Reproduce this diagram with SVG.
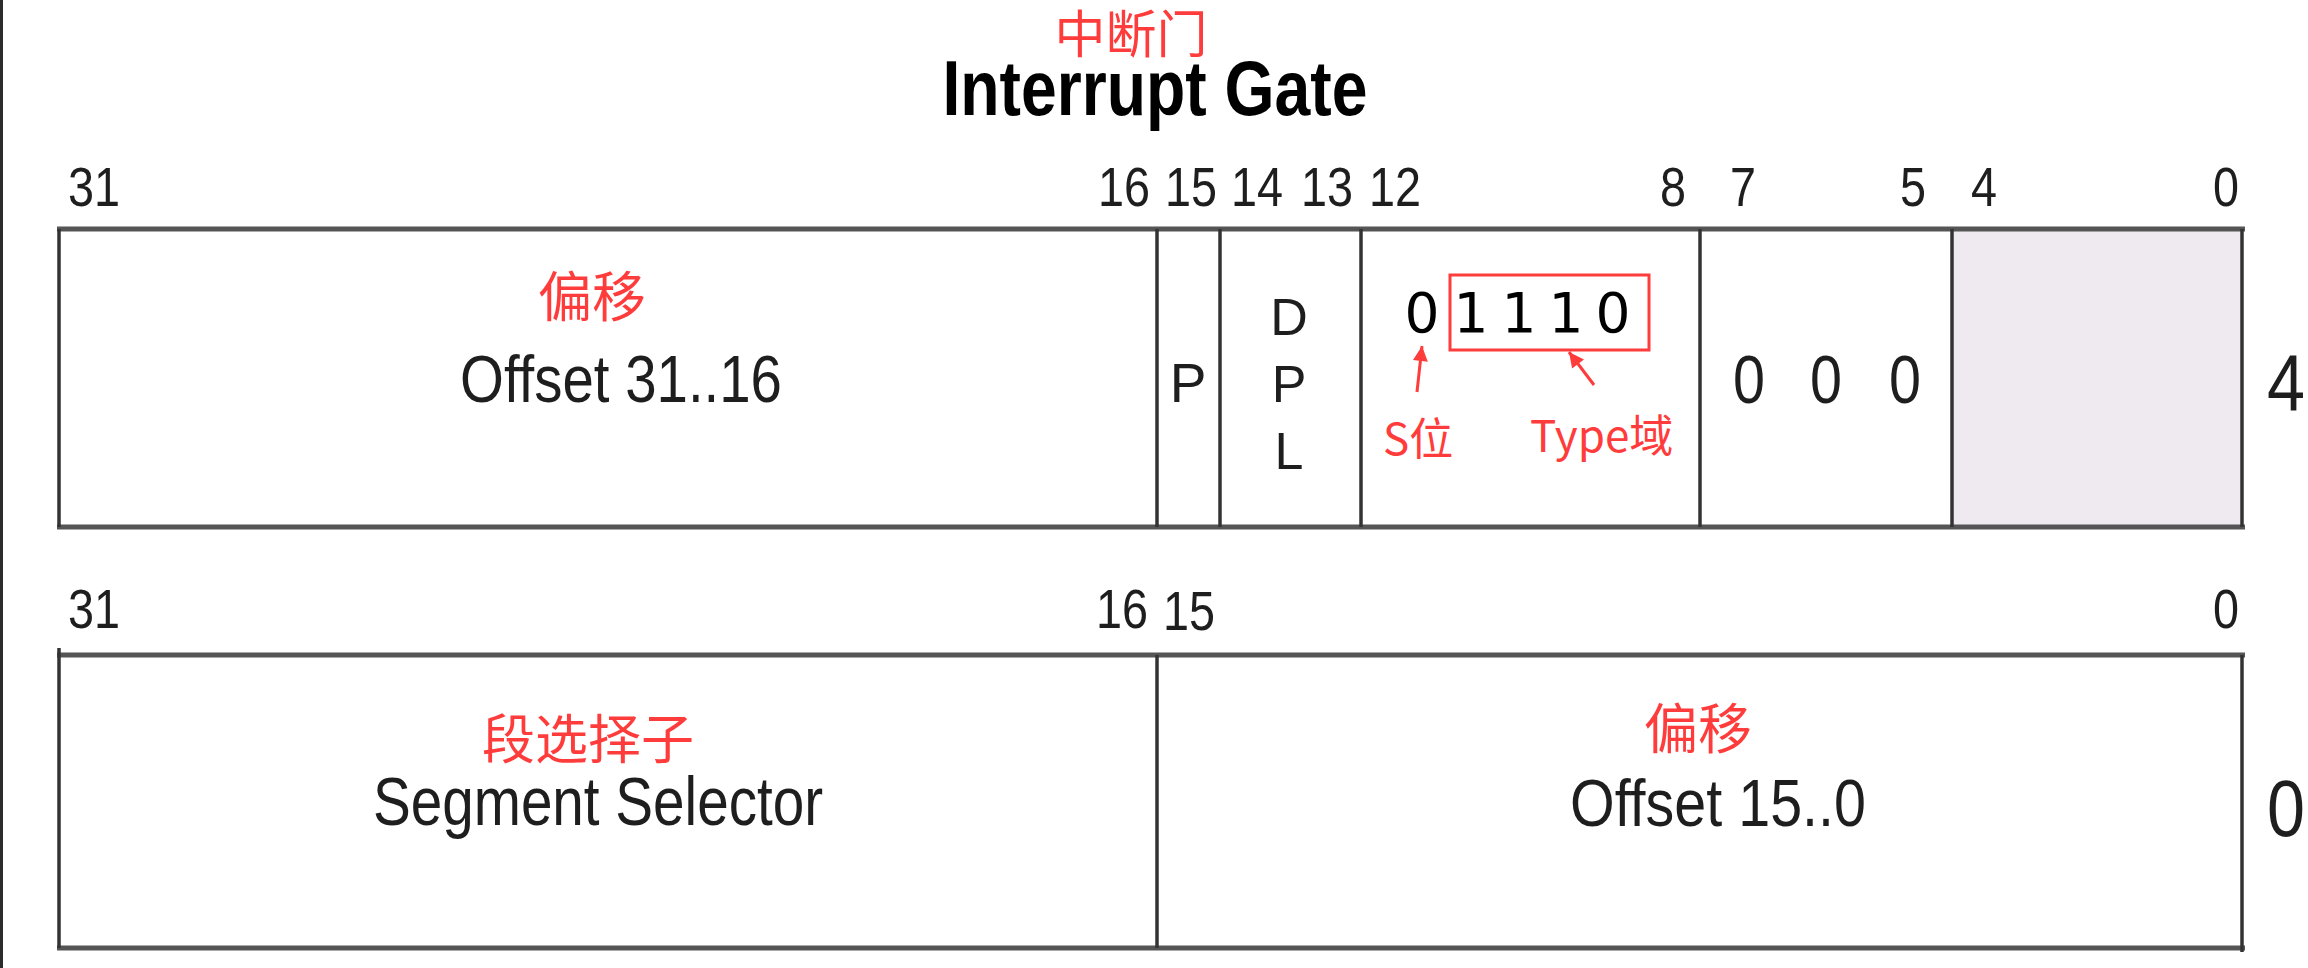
<svg xmlns="http://www.w3.org/2000/svg" width="2308" height="968" viewBox="0 0 2308 968">
<style>
.n{font-family:"Liberation Sans",Arial,sans-serif;fill:#1e1e1e;text-anchor:middle}
.cn{font-family:"Noto Sans CJK SC","Noto Sans CJK TC",sans-serif;fill:#ff3c3c;text-anchor:middle}
.rd{font-family:"Noto Sans CJK SC","Noto Sans CJK TC",sans-serif;fill:#ff3c3c}
.bit{font-size:56px}
.hb{stroke:#555;stroke-width:5;fill:none}
.vb{stroke:#333;stroke-width:3.5;fill:none}
.dj{font-family:"DejaVu Sans",sans-serif;font-size:55px;fill:#000;text-anchor:middle}
.arr{stroke:#ff3c3c;stroke-width:3;fill:none;marker-end:url(#ah)}
</style>
<defs>
<marker id="ah" viewBox="0 0 10 10" refX="10" refY="5" markerUnits="userSpaceOnUse" markerWidth="16" markerHeight="15" orient="auto">
<path d="M0,0 L10,5 L0,10 z" fill="#ff3c3c"/>
</marker>
</defs>
<rect x="0" y="0" width="2308" height="968" fill="#fff"/>
<rect x="0" y="0" width="3" height="968" fill="#2b2b2b"/>

<g id="title">
<text class="cn" x="1131" y="53" font-size="51">中断门</text>
<text class="n" x="1155" y="115" font-size="78" font-weight="bold" fill="#000" textLength="425" lengthAdjust="spacingAndGlyphs" style="fill:#000">Interrupt Gate</text>
</g>

<g id="top-bits">
<text class="n bit" x="94" y="206" textLength="52" lengthAdjust="spacingAndGlyphs">31</text>
<text class="n bit" x="1124" y="206" textLength="52" lengthAdjust="spacingAndGlyphs">16</text>
<text class="n bit" x="1191" y="206" textLength="52" lengthAdjust="spacingAndGlyphs">15</text>
<text class="n bit" x="1257" y="206" textLength="52" lengthAdjust="spacingAndGlyphs">14</text>
<text class="n bit" x="1327" y="206" textLength="52" lengthAdjust="spacingAndGlyphs">13</text>
<text class="n bit" x="1395" y="206" textLength="52" lengthAdjust="spacingAndGlyphs">12</text>
<text class="n bit" x="1673" y="206" textLength="26" lengthAdjust="spacingAndGlyphs">8</text>
<text class="n bit" x="1743" y="206" textLength="26" lengthAdjust="spacingAndGlyphs">7</text>
<text class="n bit" x="1913" y="206" textLength="26" lengthAdjust="spacingAndGlyphs">5</text>
<text class="n bit" x="1984" y="206" textLength="26" lengthAdjust="spacingAndGlyphs">4</text>
<text class="n bit" x="2226" y="206" textLength="26" lengthAdjust="spacingAndGlyphs">0</text>
</g>

<g id="row-high">
<rect x="1952" y="229" width="290" height="298" fill="#efeaef"/>
<line class="hb" x1="57" y1="229" x2="2245" y2="229"/>
<line class="hb" x1="57" y1="527" x2="2245" y2="527"/>
<line class="vb" x1="59" y1="229" x2="59" y2="527"/>
<line class="vb" x1="1157" y1="229" x2="1157" y2="527"/>
<line class="vb" x1="1220" y1="229" x2="1220" y2="527"/>
<line class="vb" x1="1361" y1="229" x2="1361" y2="527"/>
<line class="vb" x1="1700" y1="229" x2="1700" y2="527"/>
<line class="vb" x1="1952" y1="229" x2="1952" y2="527"/>
<line class="vb" x1="2242" y1="229" x2="2242" y2="527"/>
</g>

<g id="offset-high">
<text class="cn" x="592" y="317" font-size="54">偏移</text>
<text class="n" x="621" y="402" font-size="66" textLength="322" lengthAdjust="spacingAndGlyphs">Offset 31..16</text>
</g>

<g id="p-bit">
<text class="n" x="1188" y="402" font-size="55">P</text>
</g>

<g id="dpl">
<text class="n" x="1289" y="335" font-size="52">D</text>
<text class="n" x="1289" y="402" font-size="52">P</text>
<text class="n" x="1289" y="469" font-size="52">L</text>
</g>

<g id="type-field">
<text class="dj" x="1422" y="332">0</text>
<text class="dj" x="1471" y="332">1</text>
<text class="dj" x="1519" y="332">1</text>
<text class="dj" x="1566" y="332">1</text>
<text class="dj" x="1613" y="332">0</text>
<rect x="1450" y="275" width="199" height="75" fill="none" stroke="#ff3c3c" stroke-width="3"/>
<text class="rd" x="1383" y="455" font-size="44">S位</text>
<text class="rd" x="1530" y="452" font-size="44">Type域</text>
</g>

<g id="zero-bits">
<text class="n" x="1749" y="403" font-size="68" textLength="32" lengthAdjust="spacingAndGlyphs">0</text>
<text class="n" x="1826" y="403" font-size="68" textLength="32" lengthAdjust="spacingAndGlyphs">0</text>
<text class="n" x="1905" y="403" font-size="68" textLength="32" lengthAdjust="spacingAndGlyphs">0</text>
</g>

<g id="row-high-offset">
<text class="n" x="2286" y="410" font-size="80" textLength="38" lengthAdjust="spacingAndGlyphs">4</text>
</g>

<g id="bottom-bits">
<text class="n bit" x="94" y="628" textLength="52" lengthAdjust="spacingAndGlyphs">31</text>
<text class="n bit" x="1122" y="628" textLength="52" lengthAdjust="spacingAndGlyphs">16</text>
<text class="n bit" x="1189" y="630" textLength="52" lengthAdjust="spacingAndGlyphs">15</text>
<text class="n bit" x="2226" y="628" textLength="26" lengthAdjust="spacingAndGlyphs">0</text>
</g>

<g id="row-low">
<line class="hb" x1="57" y1="655" x2="2245" y2="655"/>
<line class="hb" x1="57" y1="948" x2="2245" y2="948"/>
<line class="vb" x1="59" y1="648" x2="59" y2="948"/>
<line class="vb" x1="1157" y1="655" x2="1157" y2="948"/>
<line class="vb" x1="2242" y1="655" x2="2242" y2="952"/>
</g>

<g id="segment-selector">
<text class="cn" x="588" y="759" font-size="53">段选择子</text>
<text class="n" x="598" y="825" font-size="68" textLength="450" lengthAdjust="spacingAndGlyphs">Segment Selector</text>
</g>

<g id="offset-low">
<text class="cn" x="1698" y="749" font-size="54">偏移</text>
<text class="n" x="1718" y="826" font-size="66" textLength="296" lengthAdjust="spacingAndGlyphs">Offset 15..0</text>
</g>

<g id="row-low-offset">
<text class="n" x="2286" y="836" font-size="80" textLength="38" lengthAdjust="spacingAndGlyphs">0</text>
</g>

<g id="connectors">
<line class="arr" x1="1417" y1="392" x2="1422" y2="346"/>
<line class="arr" x1="1594" y1="385" x2="1569" y2="352"/>
</g>
</svg>
